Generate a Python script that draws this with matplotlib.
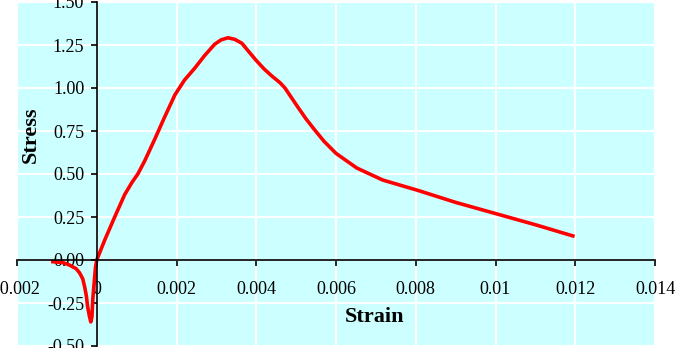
import numpy as np
import matplotlib
matplotlib.use("Agg")
import matplotlib.pyplot as plt

# strain / stress points
strain = [-0.0011, -0.00085, -0.00068, -0.00052, -0.00043, -0.00035, -0.0003, -0.00026,
          -0.00023, -0.00019, -0.00015, -0.00012, -0.0001, -0.00006, -0.00003, 0.0,
          0.0002, 0.00045, 0.0007, 0.00088, 0.00103, 0.0012, 0.00145, 0.0017,
          0.00196, 0.0022, 0.00246, 0.00271, 0.00296, 0.00312, 0.00329, 0.00346,
          0.00364, 0.0038, 0.0040, 0.0042, 0.00439, 0.0046, 0.00472, 0.00504, 0.00525, 0.00547,
          0.0057, 0.006, 0.00652, 0.00717, 0.00805, 0.0090, 0.0100, 0.0110, 0.01194]
stress = [-0.01, -0.015, -0.03, -0.05, -0.075, -0.11, -0.16, -0.21,
          -0.27, -0.32, -0.36, -0.33, -0.23, -0.12, -0.04, 0.0,
          0.116, 0.25, 0.38, 0.45, 0.50, 0.575, 0.70, 0.83,
          0.96, 1.046, 1.116, 1.19, 1.255, 1.28, 1.292, 1.283,
          1.26, 1.215, 1.16, 1.11, 1.07, 1.03, 1.0, 0.89, 0.82, 0.755,
          0.69, 0.62, 0.535, 0.465, 0.405, 0.335, 0.27, 0.205, 0.14]

xticks = [-0.002, 0, 0.002, 0.004, 0.006, 0.008, 0.010, 0.012, 0.014]
xlabels = ["-0.002", "0", "0.002", "0.004", "0.006", "0.008", "0.01", "0.012", "0.014"]
yticks = [-0.5, -0.25, 0, 0.25, 0.5, 0.75, 1.0, 1.25, 1.5]

plt.rcParams['font.family'] = ['Liberation Serif', 'DejaVu Serif']

fig = plt.figure(figsize=(6.95, 3.48), dpi=100)
ax = fig.add_axes([17/695, 2/348, (655-17)/695, 344/348])
ax.set_facecolor('#ccffff')

ax.plot(strain, stress, color='#ff0000', lw=2.6, solid_joinstyle='round', zorder=3)

ax.set_xlim(-0.002, 0.014)
ax.set_ylim(-0.5, 1.5)
ax.set_xticks(xticks)
ax.set_xticklabels(xlabels)
ax.set_yticks(yticks)
ax.set_yticklabels([f"{v:.2f}" for v in yticks])
ax.grid(True, color='white', lw=1.5)
ax.set_axisbelow(True)

ax.spines['left'].set_position(('data', 0))
ax.spines['bottom'].set_position(('data', 0))
ax.spines['top'].set_visible(False)
ax.spines['right'].set_visible(False)
for s in ['left', 'bottom']:
    ax.spines[s].set_linewidth(1.2)
    ax.spines[s].set_zorder(4)
ax.tick_params(axis='x', direction='out', length=4, width=1.2, labelsize=13, pad=11)
ax.tick_params(axis='y', direction='out', length=4, width=1.2, labelsize=13, pad=5)

fig.text(31/695, 1 - 135/348, "Stress", rotation=90, fontsize=16, fontweight='bold',
         ha='center', va='center')
fig.text(375/695, 1 - 317/348, "Strain", fontsize=16, fontweight='bold',
         ha='center', va='center')

fig.savefig("out.png", dpi=100)
